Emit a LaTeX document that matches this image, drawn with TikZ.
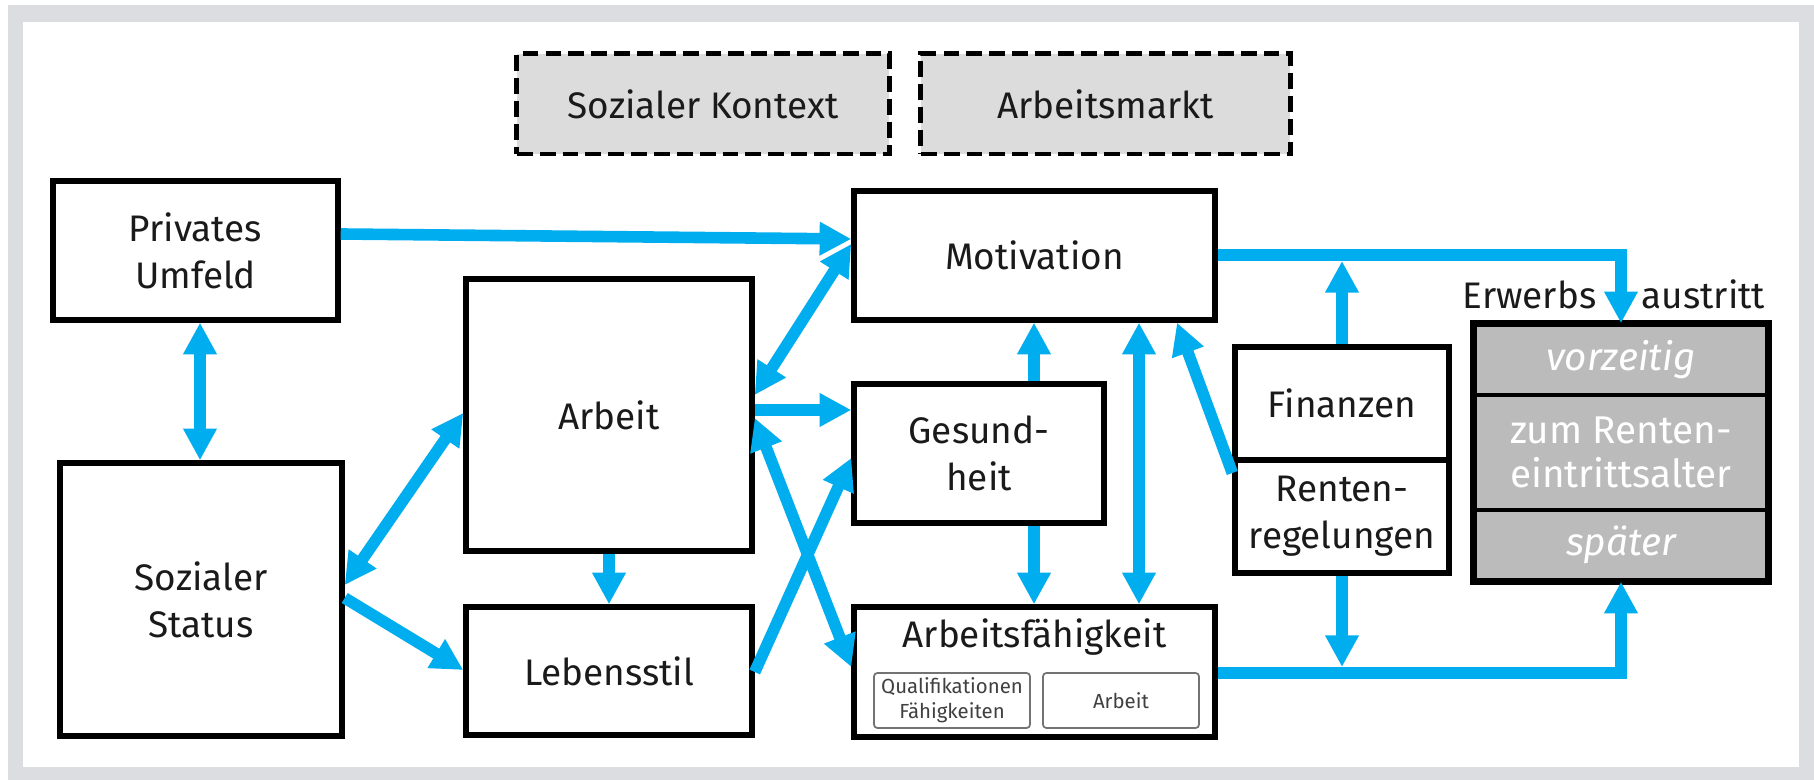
\documentclass[tikz,border=0pt]{standalone}
\usepackage{fontspec}
\setmainfont{Fira Sans}
\usetikzlibrary{arrows.meta}
\definecolor{cy}{HTML}{00AEEF}
\definecolor{framegray}{HTML}{DCDDE0}
\definecolor{ctxgray}{HTML}{DCDCDC}
\definecolor{exitgray}{HTML}{BBBBBB}
\definecolor{txt}{HTML}{1A1A1A}
\begin{document}
\begin{tikzpicture}[x=0.01cm,y=-0.01cm,
  box/.style={draw=black, line width=1.5pt, fill=white, align=center, inner sep=0pt, text=txt,
    font=\fontsize{10.5pt}{13.3pt}\selectfont},
  plain/.style={inner sep=0pt, text=txt, font=\fontsize{10.5pt}{13.3pt}\selectfont},
  ctx/.style={draw=black, line width=1.4pt, dash pattern=on 4.5pt off 2pt, fill=ctxgray,
    inner sep=0pt, text=txt, font=\fontsize{10.5pt}{13pt}\selectfont},
  subbox/.style={draw=black!55, line width=0.5pt, rounded corners=1pt, fill=white, align=center,
    inner sep=0pt, text=black!75, font=\fontsize{5.8pt}{7pt}\selectfont},
  exitcell/.style={draw=black, line width=1pt, fill=exitgray, align=center, inner sep=0pt,
    text=white, minimum width=2.92cm, font=\fontsize{11pt}{12.5pt}\selectfont},
  conn/.style={draw=cy, line width=3.3pt},
  arr/.style={conn, -{Triangle[width=9pt,length=9pt]}},
  darr/.style={conn, {Triangle[width=9pt,length=9pt]}-{Triangle[width=9pt,length=9pt]}}
]
\path[use as bounding box] (0,0) rectangle (1814,780);
\fill[framegray] (8,5) rectangle (1814,780);
\fill[white] (23,22) rectangle (1799,767);

% context boxes
\node[ctx, minimum width=3.72cm, minimum height=1.00cm] (ctxs) at (703,104) {Sozialer Kontext};
\node[ctx, minimum width=3.69cm, minimum height=1.00cm] (ctxa) at (1105.5,104) {Arbeitsmarkt};

% main boxes
\node[box, minimum width=2.85cm, minimum height=1.39cm] (priv) at (195.5,250.5) {Privates\\Umfeld};
\node[box, minimum width=2.82cm, minimum height=2.73cm] (soz) at (201,599.5) {Sozialer\\Status};
\node[box, minimum width=2.86cm, minimum height=2.72cm] (arb) at (609,415) {Arbeit};
\node[box, minimum width=2.86cm, minimum height=1.28cm] (leb) at (609,671) {Lebensstil};
\node[box, minimum width=3.61cm, minimum height=1.29cm] (mot) at (1034.5,255.5) {Motivation};
\node[box, minimum width=2.50cm, minimum height=1.39cm] (ges) at (979,453.5) {Gesund-\\heit};
\node[box, minimum width=3.61cm, minimum height=1.30cm] (af) at (1034.5,672) {};
\node[plain] (aft) at (1034.5,637) {Arbeitsfähigkeit};
\node[subbox, minimum width=1.56cm, minimum height=0.55cm] (afq) at (952,700.5) {Qualifikationen\\Fähigkeiten};
\node[subbox, minimum width=1.56cm, minimum height=0.55cm] (afa) at (1121,700.5) {Arbeit};
\node[box, minimum width=2.14cm, minimum height=1.13cm] (fin) at (1342,403.5) {Finanzen};
\node[box, minimum width=2.14cm, minimum height=1.13cm] (ren) at (1342,516.5) {Renten-\\regelungen};

% exit stack
\node[exitcell, minimum height=0.70cm] (ev) at (1621,360) {\itshape vorzeitig};
\node[exitcell, minimum height=1.15cm] (ez) at (1621,452.5) {zum Renten-\\eintrittsalter};
\node[exitcell, minimum height=0.70cm] (es) at (1621,545) {\itshape später};
\draw[line width=1.8pt] (ev.north west) rectangle (es.south east);
\node[plain, anchor=base east] (lerw) at (1597,309) {Erwerbs};
\node[plain, anchor=base west] (laus) at (1641,309) {austritt};

% junction coordinates
\coordinate (j1) at (1342,261);
\coordinate (j2) at (1342,667);

% connectors
\draw[arr] (priv.east |- 0,234) -- (mot.west |- 0,239);
\draw[darr] (priv.south -| 200,0) -- (soz.north -| 200,0);
\draw[darr] (soz.east |- 0,585) -- (arb.west |- 0,413);
\draw[arr] (soz.east |- 0,598) -- (leb.west |- 0,670);
\draw[arr] (arb.south) -- (leb.north);
\draw[darr] (arb.east |- 0,395) -- (mot.west |- 0,244);
\draw[arr] (arb.east |- 0,410) -- (ges.west |- 0,410);
\draw[darr] (arb.east |- 0,418) -- (af.west |- 0,667);
\draw[arr] (leb.east |- 0,672) -- (ges.west |- 0,458);
\draw[arr] (ges.north -| 1034,0) -- (mot.south -| 1034,0);
\draw[arr] (ges.south -| 1034,0) -- (af.north -| 1034,0);
\draw[darr] (mot.south -| 1139,0) -- (af.north -| 1139,0);
\draw[arr] (ren.west |- 0,473) -- (mot.south -| 1177,0);
\draw[arr] (fin.north) -- (j1);
\draw[arr] (ren.south) -- (j2);
\draw[arr] (mot.east |- 0,255) -| (ev.north);
\draw[arr] (af.east |- 0,673) -| (es.south);
\end{tikzpicture}
\end{document}
